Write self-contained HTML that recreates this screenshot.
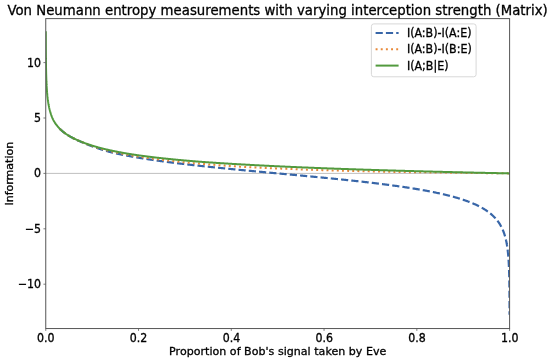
<!DOCTYPE html>
<html><head><meta charset="utf-8"><title>Von Neumann entropy measurements</title>
<style>
html,body{margin:0;padding:0;background:#fff;}
svg{display:block;}
text{font-family:"DejaVu Sans","Liberation Sans",sans-serif;fill:#000;stroke:#000;stroke-width:0.3px;}
svg{will-change:transform;}
.tk{font-size:11px;}
.lb{font-size:11.05px;}
.tt{font-size:13.27px;}
</style></head><body>
<svg width="550" height="362" viewBox="0 0 550 362">
<rect width="550" height="362" fill="#fff"/>
<clipPath id="ax"><rect x="45.75" y="18.6" width="463.85" height="309.95"/></clipPath>
<line x1="45.75" x2="509.6" y1="173.4" y2="173.4" stroke="#b8b8b8" stroke-width="0.9"/>
<g clip-path="url(#ax)" fill="none" stroke-width="2.0" stroke-linejoin="round">
<path d="M59.98,128.94 L60.48,129.43 L60.97,129.90 L61.47,130.35 L61.96,130.79 L62.46,131.21 L62.95,131.63 L63.45,132.03 L63.94,132.42 L64.44,132.80 L64.93,133.17 L65.43,133.52 L65.92,133.87 L66.42,134.21 L66.91,134.54 L67.41,134.87 L67.91,135.18 L68.40,135.49 L68.90,135.80 L69.39,136.09 L69.89,136.38 L70.38,136.67 L70.88,136.94 L71.37,137.22 L71.87,137.49 L72.36,137.75 L72.86,138.01 L73.35,138.27 L73.85,138.52 L74.34,138.77 L74.84,139.01 L75.34,139.25 L75.83,139.49 L76.33,139.73 L76.82,139.96 L77.32,140.19 L77.81,140.42 L78.31,140.64 L78.80,140.86 L79.30,141.08 L79.79,141.30 L80.29,141.52 L80.78,141.73 L81.28,141.94 L81.77,142.15 L82.27,142.36 L82.77,142.56 L83.26,142.78 L83.76,142.99 L84.25,143.20 L84.75,143.41 L85.24,143.62 L85.74,143.82 L86.23,144.02 L86.73,144.22 L87.22,144.42 L87.72,144.62 L88.21,144.82 L88.71,145.01 L89.20,145.20 L89.70,145.39 L90.19,145.58 L90.69,145.77 L91.19,145.96 L91.68,146.14 L92.18,146.32 L92.67,146.51 L93.17,146.69 L93.66,146.86 L94.16,147.04 L94.65,147.22 L95.15,147.39 L95.64,147.57 L96.14,147.74 L96.63,147.91 L97.13,148.08 L97.62,148.25 L98.12,148.41 L98.62,148.58 L99.11,148.74 L99.61,148.90 L100.10,149.06 L100.60,149.22 L101.09,149.38 L101.59,149.54 L102.08,149.69 L102.58,149.85 L103.07,150.00 L103.57,150.15 L104.06,150.30 L104.56,150.45 L105.05,150.60 L105.55,150.74 L106.05,150.89 L106.54,151.03 L107.04,151.17 L107.53,151.31 L108.03,151.45 L108.52,151.58 L109.02,151.72 L109.51,151.85 L110.01,151.98 L110.50,152.11 L111.00,152.24 L111.49,152.36 L111.99,152.49 L112.48,152.61 L112.98,152.73 L113.48,152.85 L113.97,152.96 L114.47,153.08 L114.96,153.19 L115.46,153.30 L115.95,153.41 L116.45,153.52 L116.94,153.63 L117.44,153.73 L117.93,153.84 L118.43,153.94 L118.92,154.05 L119.42,154.15 L119.91,154.26 L120.41,154.36 L120.91,154.46 L121.40,154.56 L121.90,154.66 L122.39,154.76 L122.89,154.86 L123.38,154.96 L123.88,155.06 L124.37,155.16 L124.87,155.26 L125.36,155.35 L125.86,155.45 L126.35,155.54 L126.85,155.64 L127.34,155.73 L127.84,155.83 L128.33,155.92 L128.83,156.01 L129.33,156.10 L129.82,156.19 L130.32,156.29 L130.81,156.38 L131.31,156.47 L131.80,156.56 L132.30,156.64 L132.79,156.73 L133.29,156.82 L133.78,156.91 L134.28,156.99 L134.77,157.08 L135.27,157.17 L135.76,157.25 L136.26,157.34 L136.76,157.42 L137.25,157.51 L137.75,157.59 L138.24,157.67 L138.74,157.76 L139.23,157.84 L139.73,157.92 L140.22,158.00 L140.72,158.09 L141.21,158.17 L141.71,158.25 L142.20,158.33 L142.70,158.41 L143.19,158.49 L143.69,158.57 L144.19,158.64 L144.68,158.72 L145.18,158.80 L145.67,158.88 L146.17,158.96 L146.66,159.03 L147.16,159.11 L147.65,159.18 L148.15,159.26 L148.64,159.34 L149.14,159.41 L149.63,159.49 L150.13,159.56 L150.62,159.63 L151.12,159.71 L151.62,159.78 L152.11,159.86 L152.61,159.93 L153.10,160.00 L153.60,160.07 L154.09,160.15 L154.59,160.22 L155.08,160.29 L155.58,160.36 L156.07,160.43 L156.57,160.50 L157.06,160.57 L157.56,160.64 L158.05,160.71 L158.55,160.78 L159.04,160.85 L159.54,160.92 L160.04,160.99 L160.53,161.06 L161.03,161.12 L161.52,161.19 L162.02,161.26 L162.51,161.33 L163.01,161.39 L163.50,161.46 L164.00,161.53 L164.49,161.59 L164.99,161.66 L165.48,161.72 L165.98,161.79 L166.47,161.86 L166.97,161.92 L167.47,161.99 L167.96,162.05 L168.46,162.12 L168.95,162.18 L169.45,162.24 L169.94,162.31 L170.44,162.37 L170.93,162.43 L171.43,162.50 L171.92,162.56 L172.42,162.62 L172.91,162.69 L173.41,162.75 L173.90,162.81 L174.40,162.87 L174.90,162.93 L175.39,163.00 L175.89,163.06 L176.38,163.12 L176.88,163.18 L177.37,163.24 L177.87,163.30 L178.36,163.36 L178.86,163.42 L179.35,163.48 L179.85,163.54 L180.34,163.60 L180.84,163.66 L181.33,163.72 L181.83,163.78 L182.33,163.84 L182.82,163.90 L183.32,163.96 L183.81,164.02 L184.31,164.07 L184.80,164.13 L185.30,164.19 L185.79,164.25 L186.29,164.31 L186.78,164.36 L187.28,164.42 L187.77,164.48 L188.27,164.54 L188.76,164.59 L189.26,164.65 L189.76,164.71 L190.25,164.76 L190.75,164.82 L191.24,164.87 L191.74,164.93 L192.23,164.99 L192.73,165.04 L193.22,165.10 L193.72,165.15 L194.21,165.21 L194.71,165.26 L195.20,165.32 L195.70,165.37 L196.19,165.43 L196.69,165.48 L197.18,165.54 L197.68,165.59 L198.18,165.65 L198.67,165.70 L199.17,165.76 L199.66,165.81 L200.16,165.86 L200.65,165.92 L201.15,165.97 L201.64,166.03 L202.14,166.08 L202.63,166.13 L203.13,166.18 L203.62,166.24 L204.12,166.29 L204.61,166.34 L205.11,166.40 L205.61,166.45 L206.10,166.50 L206.60,166.55 L207.09,166.61 L207.59,166.66 L208.08,166.71 L208.58,166.76 L209.07,166.81 L209.57,166.87 L210.06,166.92 L210.56,166.97 L211.05,167.02 L211.55,167.07 L212.04,167.12 L212.54,167.18 L213.04,167.23 L213.53,167.28 L214.03,167.33 L214.52,167.38 L215.02,167.43 L215.51,167.48 L216.01,167.53 L216.50,167.58 L217.00,167.63 L217.49,167.68 L217.99,167.73 L218.48,167.78 L218.98,167.83 L219.47,167.88 L219.97,167.93 L220.47,167.98 L220.96,168.03 L221.46,168.08 L221.95,168.13 L222.45,168.18 L222.94,168.23 L223.44,168.28 L223.93,168.33 L224.43,168.38 L224.92,168.43 L225.42,168.48 L225.91,168.53 L226.41,168.57 L226.90,168.62 L227.40,168.67 L227.89,168.72 L228.39,168.77 L228.89,168.82 L229.38,168.87 L229.88,168.92 L230.37,168.96 L230.87,169.01 L231.36,169.06 L231.86,169.11 L232.35,169.16 L232.85,169.20 L233.34,169.25 L233.84,169.30 L234.33,169.35 L234.83,169.40 L235.32,169.44 L235.82,169.49 L236.32,169.54 L236.81,169.59 L237.31,169.64 L237.80,169.68 L238.30,169.73 L238.79,169.78 L239.29,169.82 L239.78,169.87 L240.28,169.92 L240.77,169.97 L241.27,170.01 L241.76,170.06 L242.26,170.11 L242.75,170.16 L243.25,170.20 L243.75,170.25 L244.24,170.30 L244.74,170.34 L245.23,170.39 L245.73,170.44 L246.22,170.48 L246.72,170.53 L247.21,170.58 L247.71,170.62 L248.20,170.67 L248.70,170.72 L249.19,170.76 L249.69,170.81 L250.18,170.86 L250.68,170.90 L251.18,170.95 L251.67,171.00 L252.17,171.04 L252.66,171.09 L253.16,171.13 L253.65,171.18 L254.15,171.23 L254.64,171.27 L255.14,171.32 L255.63,171.37 L256.13,171.41 L256.62,171.46 L257.12,171.50 L257.61,171.55 L258.11,171.60 L258.61,171.64 L259.10,171.69 L259.60,171.73 L260.09,171.78 L260.59,171.83 L261.08,171.87 L261.58,171.92 L262.07,171.96 L262.57,172.01 L263.06,172.05 L263.56,172.10 L264.05,172.15 L264.55,172.19 L265.04,172.24 L265.54,172.28 L266.03,172.33 L266.53,172.37 L267.03,172.42 L267.52,172.47 L268.02,172.51 L268.51,172.56 L269.01,172.60 L269.50,172.65 L270.00,172.69 L270.49,172.74 L270.99,172.79 L271.48,172.83 L271.98,172.88 L272.47,172.92 L272.97,172.97 L273.46,173.01 L273.96,173.06 L274.46,173.10 L274.95,173.15 L275.45,173.20 L275.94,173.24 L276.44,173.29 L276.93,173.33 L277.43,173.38 L277.92,173.42 L278.42,173.47 L278.91,173.51 L279.41,173.56 L279.90,173.60 L280.40,173.65 L280.89,173.70 L281.39,173.74 L281.89,173.79 L282.38,173.83 L282.88,173.88 L283.37,173.92 L283.87,173.97 L284.36,174.01 L284.86,174.06 L285.35,174.11 L285.85,174.15 L286.34,174.20 L286.84,174.24 L287.33,174.29 L287.83,174.33 L288.32,174.38 L288.82,174.43 L289.32,174.47 L289.81,174.52 L290.31,174.56 L290.80,174.61 L291.30,174.65 L291.79,174.70 L292.29,174.75 L292.78,174.79 L293.28,174.84 L293.77,174.88 L294.27,174.93 L294.76,174.97 L295.26,175.02 L295.75,175.07 L296.25,175.11 L296.74,175.16 L297.24,175.20 L297.74,175.25 L298.23,175.30 L298.73,175.34 L299.22,175.39 L299.72,175.43 L300.21,175.48 L300.71,175.53 L301.20,175.57 L301.70,175.62 L302.19,175.67 L302.69,175.71 L303.18,175.76 L303.68,175.80 L304.17,175.85 L304.67,175.90 L305.17,175.94 L305.66,175.99 L306.16,176.04 L306.65,176.08 L307.15,176.13 L307.64,176.18 L308.14,176.22 L308.63,176.27 L309.13,176.32 L309.62,176.36 L310.12,176.41 L310.61,176.46 L311.11,176.50 L311.60,176.55 L312.10,176.60 L312.60,176.64 L313.09,176.69 L313.59,176.74 L314.08,176.79 L314.58,176.83 L315.07,176.88 L315.57,176.93 L316.06,176.98 L316.56,177.02 L317.05,177.07 L317.55,177.12 L318.04,177.16 L318.54,177.21 L319.03,177.26 L319.53,177.31 L320.03,177.36 L320.52,177.40 L321.02,177.45 L321.51,177.50 L322.01,177.55 L322.50,177.60 L323.00,177.64 L323.49,177.69 L323.99,177.74 L324.48,177.79 L324.98,177.84 L325.47,177.88 L325.97,177.93 L326.46,177.98 L326.96,178.03 L327.46,178.08 L327.95,178.13 L328.45,178.18 L328.94,178.23 L329.44,178.27 L329.93,178.32 L330.43,178.37 L330.92,178.42 L331.42,178.47 L331.91,178.52 L332.41,178.57 L332.90,178.62 L333.40,178.67 L333.89,178.72 L334.39,178.77 L334.88,178.82 L335.38,178.87 L335.88,178.92 L336.37,178.97 L336.87,179.02 L337.36,179.07 L337.86,179.12 L338.35,179.17 L338.85,179.22 L339.34,179.27 L339.84,179.32 L340.33,179.37 L340.83,179.42 L341.32,179.47 L341.82,179.52 L342.31,179.57 L342.81,179.62 L343.31,179.68 L343.80,179.73 L344.30,179.78 L344.79,179.83 L345.29,179.88 L345.78,179.93 L346.28,179.99 L346.77,180.04 L347.27,180.09 L347.76,180.14 L348.26,180.19 L348.75,180.25 L349.25,180.30 L349.74,180.35 L350.24,180.40 L350.74,180.46 L351.23,180.51 L351.73,180.56 L352.22,180.62 L352.72,180.67 L353.21,180.72 L353.71,180.77 L354.20,180.83 L354.70,180.88 L355.19,180.94 L355.69,180.99 L356.18,181.04 L356.68,181.10 L357.17,181.15 L357.67,181.21 L358.17,181.26 L358.66,181.32 L359.16,181.37 L359.65,181.43 L360.15,181.48 L360.64,181.54 L361.14,181.59 L361.63,181.65 L362.13,181.70 L362.62,181.76 L363.12,181.81 L363.61,181.87 L364.11,181.93 L364.60,181.98 L365.10,182.04 L365.59,182.09 L366.09,182.15 L366.59,182.21 L367.08,182.26 L367.58,182.32 L368.07,182.38 L368.57,182.44 L369.06,182.49 L369.56,182.55 L370.05,182.61 L370.55,182.67 L371.04,182.73 L371.54,182.78 L372.03,182.84 L372.53,182.90 L373.02,182.96 L373.52,183.02 L374.02,183.08 L374.51,183.14 L375.01,183.20 L375.50,183.26 L376.00,183.32 L376.49,183.38 L376.99,183.44 L377.48,183.50 L377.98,183.56 L378.47,183.62 L378.97,183.68 L379.46,183.74 L379.96,183.80 L380.45,183.87 L380.95,183.93 L381.45,183.99 L381.94,184.05 L382.44,184.11 L382.93,184.18 L383.43,184.24 L383.92,184.30 L384.42,184.37 L384.91,184.43 L385.41,184.49 L385.90,184.56 L386.40,184.62 L386.89,184.68 L387.39,184.75 L387.88,184.81 L388.38,184.88 L388.88,184.94 L389.37,185.01 L389.87,185.08 L390.36,185.14 L390.86,185.21 L391.35,185.27 L391.85,185.34 L392.34,185.41 L392.84,185.47 L393.33,185.54 L393.83,185.61 L394.32,185.68 L394.82,185.74 L395.31,185.81 L395.81,185.88 L396.31,185.95 L396.80,186.02 L397.30,186.09 L397.79,186.16 L398.29,186.23 L398.78,186.30 L399.28,186.37 L399.77,186.44 L400.27,186.51 L400.76,186.58 L401.26,186.65 L401.75,186.73 L402.25,186.80 L402.74,186.87 L403.24,186.94 L403.73,187.02 L404.23,187.09 L404.73,187.17 L405.22,187.24 L405.72,187.31 L406.21,187.39 L406.71,187.46 L407.20,187.54 L407.70,187.62 L408.19,187.69 L408.69,187.77 L409.18,187.84 L409.68,187.92 L410.17,188.00 L410.67,188.08 L411.16,188.16 L411.66,188.23 L412.16,188.31 L412.65,188.39 L413.15,188.47 L413.64,188.55 L414.14,188.63 L414.63,188.71 L415.13,188.80 L415.62,188.88 L416.12,188.96 L416.61,189.04 L417.11,189.13 L417.60,189.21 L418.10,189.29 L418.59,189.38 L419.09,189.46 L419.59,189.55 L420.08,189.63 L420.58,189.72 L421.07,189.81 L421.57,189.89 L422.06,189.98 L422.56,190.07 L423.05,190.16 L423.55,190.24 L424.04,190.33 L424.54,190.42 L425.03,190.51 L425.53,190.61 L426.02,190.70 L426.52,190.79 L427.02,190.88 L427.51,190.97 L428.01,191.07 L428.50,191.16 L429.00,191.26 L429.49,191.35 L429.99,191.45 L430.48,191.54 L430.98,191.64 L431.47,191.74 L431.97,191.84 L432.46,191.94 L432.96,192.04 L433.45,192.14 L433.95,192.24 L434.44,192.34 L434.94,192.44 L435.44,192.54 L435.93,192.65 L436.43,192.75 L436.92,192.86 L437.42,192.96 L437.91,193.07 L438.41,193.17 L438.90,193.28 L439.40,193.39 L439.89,193.50 L440.39,193.61 L440.88,193.72 L441.38,193.83 L441.87,193.94 L442.37,194.06 L442.87,194.17 L443.36,194.29 L443.86,194.40 L444.35,194.52 L444.85,194.64 L445.34,194.75 L445.84,194.87 L446.33,194.99 L446.83,195.12 L447.32,195.24 L447.82,195.36 L448.31,195.48 L448.81,195.61 L449.30,195.74 L449.80,195.86 L450.30,195.99 L450.79,196.12 L451.29,196.25 L451.78,196.38 L452.28,196.52 L452.77,196.65 L453.27,196.78 L453.76,196.92 L454.26,197.06 L454.75,197.20 L455.25,197.34 L455.74,197.48 L456.24,197.62 L456.73,197.77 L457.23,197.91 L457.73,198.06 L458.22,198.21 L458.72,198.36 L459.21,198.51 L459.71,198.66 L460.20,198.81 L460.70,198.97 L461.19,199.13 L461.69,199.29 L462.18,199.45 L462.68,199.61 L463.17,199.77 L463.67,199.94 L464.16,200.11 L464.66,200.28 L465.16,200.45 L465.65,200.62 L466.15,200.80 L466.64,200.97 L467.14,201.15 L467.63,201.34 L468.13,201.52 L468.62,201.71 L469.12,201.89 L469.61,202.08 L470.11,202.28 L470.60,202.47 L471.10,202.67 L471.59,202.87 L472.09,203.08 L472.58,203.28 L473.08,203.49 L473.58,203.70 L474.07,203.92 L474.57,204.14 L475.06,204.36 L475.56,204.58 L476.05,204.81 L476.55,205.04 L477.04,205.28 L477.54,205.52 L478.03,205.76 L478.53,206.00 L479.02,206.26 L479.52,206.51 L480.01,206.77 L480.51,207.03 L481.01,207.30 L481.50,207.57 L482.00,207.85 L482.49,208.13 L482.99,208.42 L483.48,208.71 L483.98,209.01 L484.47,209.32 L484.97,209.63 L485.46,209.95 L485.96,210.27 L486.45,210.60 L486.95,210.94 L487.44,211.29 L487.94,211.64 L488.44,212.01 L488.93,212.38 L489.43,212.76 L489.92,213.15 L490.42,213.55 L490.91,213.96 L491.41,214.38 L491.90,214.81 L492.40,215.26 L492.89,215.72 L493.39,216.19 L493.88,216.68 L494.38,217.19 L494.87,217.71 L495.37,218.25 L495.87,218.81 L496.36,219.39 L496.86,219.99 L497.35,220.61 L497.85,221.27 L498.34,221.95 L498.84,222.66 L499.33,223.40 L499.83,224.18 L500.32,225.01 L500.50,225.31 L500.67,225.61 L500.84,225.92 L501.01,226.22 L501.17,226.52 L501.33,226.83 L501.49,227.13 L501.64,227.44 L501.79,227.74 L501.94,228.04 L502.08,228.35 L502.23,228.65 L502.37,228.95 L502.50,229.26 L502.64,229.56 L502.77,229.86 L502.90,230.17 L503.03,230.47 L503.15,230.78 L503.27,231.08 L503.39,231.38 L503.51,231.69 L503.63,231.99 L503.74,232.30 L503.85,232.60 L503.96,232.91 L504.07,233.21 L504.17,233.51 L504.28,233.82 L504.38,234.12 L504.48,234.43 L504.57,234.73 L504.67,235.04 L504.76,235.34 L504.85,235.64 L504.94,235.95 L505.03,236.25 L505.12,236.56 L505.20,236.86 L505.29,237.17 L505.37,237.47 L505.45,237.78 L505.53,238.08 L505.60,238.39 L505.68,238.69 L505.75,239.00 L505.83,239.30 L505.90,239.61 L505.97,239.91 L506.04,240.22 L506.11,240.52 L506.17,240.82 L506.24,241.13 L506.30,241.43 L506.36,241.74 L506.42,242.04 L506.48,242.35 L506.54,242.65 L506.60,242.96 L506.66,243.26 L506.71,243.57 L506.77,243.88 L506.82,244.18 L506.88,244.49 L506.93,244.79 L506.98,245.10 L507.03,245.40 L507.08,245.71 L507.12,246.01 L507.17,246.32 L507.22,246.62 L507.26,246.93 L507.31,247.23 L507.35,247.54 L507.39,247.84 L507.43,248.15 L507.48,248.45 L507.52,248.76 L507.56,249.06 L507.59,249.37 L507.63,249.67 L507.67,249.98 L507.71,250.29 L507.74,250.59 L507.78,250.90 L507.81,251.20 L507.85,251.51 L507.88,251.81 L507.91,252.12 L507.94,252.42 L507.98,252.73 L508.01,253.03 L508.04,253.34 L508.07,253.65 L508.09,253.95 L508.12,254.26 L508.15,254.56 L508.18,254.87 L508.21,255.17 L508.23,255.48 L508.26,255.78 L508.28,256.09 L508.31,256.40 L508.33,256.70 L508.36,257.01 L508.38,257.31 L508.40,257.62 L508.43,257.92 L508.45,258.23 L508.47,258.53 L508.49,258.84 L508.51,259.15 L508.53,259.45 L508.55,259.76 L508.57,260.06 L508.59,260.37 L508.61,260.67 L508.63,260.98 L508.65,261.29 L508.67,261.59 L508.69,261.90 L508.70,262.20 L508.72,262.51 L508.74,262.81 L508.75,263.12 L508.77,263.43 L508.78,263.73 L508.80,264.04 L508.81,264.34 L508.83,264.65 L508.84,264.95 L508.86,265.26 L508.87,265.57 L508.89,265.87 L508.90,266.18 L508.91,266.48 L508.93,266.79 L508.94,267.10 L508.95,267.40 L508.96,267.71 L508.98,268.01 L508.99,268.32 L509.00,268.62 L509.01,268.93 L509.02,269.24 L509.03,269.54 L509.04,269.85 L509.05,270.15 L509.06,270.46 L509.07,270.76 L509.08,271.07 L509.09,271.38 L509.10,271.68 L509.11,271.99 L509.12,272.29 L509.13,272.60 L509.14,272.91 L509.15,273.21 L509.16,273.52 L509.17,273.82 L509.17,274.13 L509.18,274.44 L509.19,274.74 L509.20,275.05 L509.21,275.35 L509.21,275.66 L509.22,275.96 L509.23,276.27 L509.23,276.58 L509.24,276.88 L509.25,277.19 L509.26,277.49 L509.26,277.80 L509.27,278.11 L509.27,278.41 L509.28,278.72 L509.29,279.02 L509.29,279.33 L509.30,279.64 L509.30,279.94 L509.31,280.25 L509.32,280.55 L509.32,280.86 L509.33,281.17 L509.33,281.47 L509.34,281.78 L509.34,282.08 L509.35,282.39 L509.35,282.69 L509.36,283.00 L509.36,283.31 L509.36,283.61 L509.37,283.92 L509.37,284.22 L509.38,284.53 L509.38,284.84 L509.39,285.14 L509.39,285.45 L509.39,285.75 L509.40,286.06 L509.40,286.37 L509.41,286.67 L509.41,286.98 L509.41,287.28 L509.42,287.59 L509.42,287.90 L509.42,288.20 L509.43,288.51 L509.43,288.81 L509.43,289.12 L509.44,289.43 L509.44,289.73 L509.44,290.04 L509.45,290.34 L509.45,290.65 L509.45,290.96 L509.45,291.26 L509.46,291.57 L509.46,291.87 L509.46,292.18 L509.47,292.49 L509.47,292.79 L509.47,293.10 L509.47,293.40 L509.48,293.71 L509.48,294.02 L509.48,294.32 L509.48,294.63 L509.48,294.93 L509.49,295.24 L509.49,295.54 L509.49,295.85 L509.49,296.16 L509.49,296.46 L509.50,296.77 L509.50,297.07 L509.50,297.38 L509.50,297.69 L509.50,297.99 L509.51,298.30 L509.51,298.60 L509.51,298.91 L509.51,299.22 L509.51,299.52 L509.51,299.83 L509.52,300.13 L509.52,300.44 L509.52,300.75 L509.52,301.05 L509.52,301.36 L509.52,301.66 L509.53,301.97 L509.53,302.28 L509.53,302.58 L509.53,302.89 L509.53,303.19 L509.53,303.50 L509.53,303.81 L509.53,304.11 L509.54,304.42 L509.54,304.72 L509.54,305.03 L509.54,305.34 L509.54,305.64 L509.54,305.95 L509.54,306.25 L509.54,306.56 L509.55,306.87 L509.55,307.17 L509.55,307.48 L509.55,307.78 L509.55,308.09 L509.55,308.40 L509.55,308.70 L509.55,309.01 L509.55,309.31 L509.55,309.62 L509.55,309.93 L509.56,310.23 L509.56,310.54 L509.56,310.84 L509.56,311.15 L509.56,311.46 L509.56,311.76 L509.56,312.07 L509.56,312.37 L509.56,312.68 L509.56,312.99 L509.56,313.29 L509.56,313.60 L509.56,313.90 L509.57,314.21 L509.57,314.52 L509.57,314.67 L509.57,314.67 L509.57,314.67 L509.57,314.67 L509.57,314.67 L509.57,314.67" stroke="#3866a8" stroke-width="2.2" stroke-dasharray="7.2 3.1"/>
<path d="M59.98,128.94 L60.48,129.43 L60.97,129.90 L61.47,130.35 L61.96,130.79 L62.46,131.21 L62.95,131.63 L63.45,132.03 L63.94,132.42 L64.44,132.80 L64.93,133.17 L65.43,133.52 L65.92,133.87 L66.42,134.21 L66.91,134.54 L67.41,134.87 L67.91,135.18 L68.40,135.49 L68.90,135.80 L69.39,136.09 L69.89,136.38 L70.38,136.66 L70.88,136.94 L71.37,137.21 L71.87,137.48 L72.36,137.74 L72.86,138.00 L73.35,138.25 L73.85,138.50 L74.34,138.74 L74.84,138.98 L75.34,139.21 L75.83,139.44 L76.33,139.67 L76.82,139.89 L77.32,140.11 L77.81,140.33 L78.31,140.54 L78.80,140.76 L79.30,140.98 L79.79,141.20 L80.29,141.41 L80.78,141.62 L81.28,141.83 L81.77,142.03 L82.27,142.23 L82.77,142.43 L83.26,142.64 L83.76,142.85 L84.25,143.05 L84.75,143.25 L85.24,143.45 L85.74,143.65 L86.23,143.84 L86.73,144.03 L87.22,144.22 L87.72,144.41 L88.21,144.60 L88.71,144.78 L89.20,144.96 L89.70,145.14 L90.19,145.32 L90.69,145.49 L91.19,145.67 L91.68,145.84 L92.18,146.01 L92.67,146.17 L93.17,146.34 L93.66,146.50 L94.16,146.67 L94.65,146.83 L95.15,146.99 L95.64,147.14 L96.14,147.30 L96.63,147.45 L97.13,147.61 L97.62,147.76 L98.12,147.91 L98.62,148.06 L99.11,148.21 L99.61,148.35 L100.10,148.50 L100.60,148.64 L101.09,148.78 L101.59,148.92 L102.08,149.06 L102.58,149.20 L103.07,149.34 L103.57,149.48 L104.06,149.61 L104.56,149.74 L105.05,149.88 L105.55,150.01 L106.05,150.14 L106.54,150.26 L107.04,150.39 L107.53,150.51 L108.03,150.63 L108.52,150.75 L109.02,150.87 L109.51,150.99 L110.01,151.11 L110.50,151.22 L111.00,151.34 L111.49,151.45 L111.99,151.57 L112.48,151.68 L112.98,151.79 L113.48,151.90 L113.97,152.01 L114.47,152.12 L114.96,152.23 L115.46,152.34 L115.95,152.45 L116.45,152.55 L116.94,152.66 L117.44,152.76 L117.93,152.87 L118.43,152.97 L118.92,153.07 L119.42,153.17 L119.91,153.27 L120.41,153.38 L120.91,153.48 L121.40,153.57 L121.90,153.67 L122.39,153.77 L122.89,153.87 L123.38,153.96 L123.88,154.06 L124.37,154.16 L124.87,154.25 L125.36,154.34 L125.86,154.44 L126.35,154.53 L126.85,154.62 L127.34,154.71 L127.84,154.81 L128.33,154.90 L128.83,154.99 L129.33,155.08 L129.82,155.16 L130.32,155.25 L130.81,155.34 L131.31,155.43 L131.80,155.51 L132.30,155.60 L132.79,155.69 L133.29,155.77 L133.78,155.86 L134.28,155.94 L134.77,156.03 L135.27,156.11 L135.76,156.19 L136.26,156.27 L136.76,156.36 L137.25,156.44 L137.75,156.52 L138.24,156.60 L138.74,156.68 L139.23,156.75 L139.73,156.83 L140.22,156.90 L140.72,156.98 L141.21,157.05 L141.71,157.12 L142.20,157.20 L142.70,157.27 L143.19,157.34 L143.69,157.41 L144.19,157.49 L144.68,157.56 L145.18,157.63 L145.67,157.70 L146.17,157.77 L146.66,157.84 L147.16,157.91 L147.65,157.98 L148.15,158.05 L148.64,158.11 L149.14,158.18 L149.63,158.25 L150.13,158.32 L150.62,158.38 L151.12,158.45 L151.62,158.52 L152.11,158.58 L152.61,158.65 L153.10,158.72 L153.60,158.78 L154.09,158.84 L154.59,158.91 L155.08,158.97 L155.58,159.04 L156.07,159.10 L156.57,159.16 L157.06,159.23 L157.56,159.29 L158.05,159.35 L158.55,159.41 L159.04,159.48 L159.54,159.54 L160.04,159.60 L160.53,159.66 L161.03,159.72 L161.52,159.78 L162.02,159.84 L162.51,159.90 L163.01,159.96 L163.50,160.02 L164.00,160.08 L164.49,160.14 L164.99,160.20 L165.48,160.26 L165.98,160.31 L166.47,160.37 L166.97,160.43 L167.47,160.49 L167.96,160.54 L168.46,160.60 L168.95,160.66 L169.45,160.71 L169.94,160.77 L170.44,160.83 L170.93,160.88 L171.43,160.94 L171.92,160.99 L172.42,161.05 L172.91,161.10 L173.41,161.16 L173.90,161.21 L174.40,161.26 L174.90,161.32 L175.39,161.37 L175.89,161.43 L176.38,161.48 L176.88,161.53 L177.37,161.58 L177.87,161.64 L178.36,161.69 L178.86,161.74 L179.35,161.79 L179.85,161.85 L180.34,161.90 L180.84,161.95 L181.33,162.00 L181.83,162.05 L182.33,162.10 L182.82,162.15 L183.32,162.20 L183.81,162.25 L184.31,162.30 L184.80,162.35 L185.30,162.40 L185.79,162.45 L186.29,162.50 L186.78,162.54 L187.28,162.59 L187.77,162.64 L188.27,162.68 L188.76,162.73 L189.26,162.78 L189.76,162.82 L190.25,162.87 L190.75,162.92 L191.24,162.96 L191.74,163.01 L192.23,163.05 L192.73,163.10 L193.22,163.14 L193.72,163.19 L194.21,163.23 L194.71,163.28 L195.20,163.32 L195.70,163.36 L196.19,163.41 L196.69,163.45 L197.18,163.50 L197.68,163.54 L198.18,163.58 L198.67,163.63 L199.17,163.67 L199.66,163.71 L200.16,163.75 L200.65,163.79 L201.15,163.83 L201.64,163.87 L202.14,163.91 L202.63,163.95 L203.13,163.99 L203.62,164.03 L204.12,164.07 L204.61,164.11 L205.11,164.15 L205.61,164.19 L206.10,164.23 L206.60,164.27 L207.09,164.30 L207.59,164.34 L208.08,164.38 L208.58,164.42 L209.07,164.46 L209.57,164.50 L210.06,164.54 L210.56,164.57 L211.05,164.61 L211.55,164.65 L212.04,164.69 L212.54,164.72 L213.04,164.76 L213.53,164.80 L214.03,164.84 L214.52,164.87 L215.02,164.91 L215.51,164.95 L216.01,164.98 L216.50,165.02 L217.00,165.06 L217.49,165.09 L217.99,165.13 L218.48,165.17 L218.98,165.20 L219.47,165.24 L219.97,165.28 L220.47,165.31 L220.96,165.35 L221.46,165.38 L221.95,165.42 L222.45,165.45 L222.94,165.49 L223.44,165.52 L223.93,165.56 L224.43,165.59 L224.92,165.63 L225.42,165.66 L225.91,165.70 L226.41,165.73 L226.90,165.77 L227.40,165.80 L227.89,165.84 L228.39,165.87 L228.89,165.91 L229.38,165.94 L229.88,165.97 L230.37,166.01 L230.87,166.04 L231.36,166.08 L231.86,166.11 L232.35,166.14 L232.85,166.18 L233.34,166.21 L233.84,166.24 L234.33,166.28 L234.83,166.31 L235.32,166.34 L235.82,166.38 L236.32,166.41 L236.81,166.44 L237.31,166.47 L237.80,166.51 L238.30,166.54 L238.79,166.57 L239.29,166.60 L239.78,166.64 L240.28,166.67 L240.77,166.70 L241.27,166.72 L241.76,166.75 L242.26,166.78 L242.75,166.80 L243.25,166.83 L243.75,166.86 L244.24,166.88 L244.74,166.91 L245.23,166.93 L245.73,166.96 L246.22,166.98 L246.72,167.01 L247.21,167.03 L247.71,167.06 L248.20,167.09 L248.70,167.11 L249.19,167.14 L249.69,167.16 L250.18,167.19 L250.68,167.21 L251.18,167.23 L251.67,167.26 L252.17,167.28 L252.66,167.31 L253.16,167.33 L253.65,167.36 L254.15,167.38 L254.64,167.41 L255.14,167.43 L255.63,167.46 L256.13,167.48 L256.62,167.50 L257.12,167.53 L257.61,167.55 L258.11,167.58 L258.61,167.60 L259.10,167.62 L259.60,167.65 L260.09,167.67 L260.59,167.70 L261.08,167.72 L261.58,167.74 L262.07,167.77 L262.57,167.79 L263.06,167.81 L263.56,167.84 L264.05,167.86 L264.55,167.88 L265.04,167.91 L265.54,167.93 L266.03,167.95 L266.53,167.98 L267.03,168.00 L267.52,168.02 L268.02,168.05 L268.51,168.07 L269.01,168.09 L269.50,168.11 L270.00,168.14 L270.49,168.16 L270.99,168.18 L271.48,168.20 L271.98,168.23 L272.47,168.25 L272.97,168.27 L273.46,168.29 L273.96,168.31 L274.46,168.34 L274.95,168.36 L275.45,168.38 L275.94,168.40 L276.44,168.42 L276.93,168.44 L277.43,168.47 L277.92,168.49 L278.42,168.51 L278.91,168.53 L279.41,168.55 L279.90,168.57 L280.40,168.59 L280.89,168.62 L281.39,168.64 L281.89,168.66 L282.38,168.68 L282.88,168.70 L283.37,168.72 L283.87,168.74 L284.36,168.76 L284.86,168.78 L285.35,168.80 L285.85,168.83 L286.34,168.85 L286.84,168.87 L287.33,168.89 L287.83,168.91 L288.32,168.93 L288.82,168.95 L289.32,168.97 L289.81,168.99 L290.31,169.01 L290.80,169.03 L291.30,169.05 L291.79,169.07 L292.29,169.09 L292.78,169.11 L293.28,169.13 L293.77,169.15 L294.27,169.17 L294.76,169.19 L295.26,169.21 L295.75,169.23 L296.25,169.25 L296.74,169.27 L297.24,169.29 L297.74,169.31 L298.23,169.32 L298.73,169.34 L299.22,169.36 L299.72,169.38 L300.21,169.40 L300.71,169.42 L301.20,169.44 L301.70,169.46 L302.19,169.47 L302.69,169.49 L303.18,169.51 L303.68,169.52 L304.17,169.54 L304.67,169.56 L305.17,169.58 L305.66,169.59 L306.16,169.61 L306.65,169.63 L307.15,169.64 L307.64,169.66 L308.14,169.68 L308.63,169.69 L309.13,169.71 L309.62,169.73 L310.12,169.74 L310.61,169.76 L311.11,169.78 L311.60,169.79 L312.10,169.81 L312.60,169.82 L313.09,169.84 L313.59,169.86 L314.08,169.87 L314.58,169.89 L315.07,169.91 L315.57,169.92 L316.06,169.94 L316.56,169.95 L317.05,169.97 L317.55,169.99 L318.04,170.00 L318.54,170.02 L319.03,170.03 L319.53,170.05 L320.03,170.06 L320.52,170.08 L321.02,170.10 L321.51,170.11 L322.01,170.13 L322.50,170.14 L323.00,170.16 L323.49,170.17 L323.99,170.19 L324.48,170.20 L324.98,170.22 L325.47,170.23 L325.97,170.25 L326.46,170.26 L326.96,170.28 L327.46,170.29 L327.95,170.31 L328.45,170.32 L328.94,170.34 L329.44,170.35 L329.93,170.37 L330.43,170.38 L330.92,170.40 L331.42,170.41 L331.91,170.43 L332.41,170.44 L332.90,170.45 L333.40,170.47 L333.89,170.48 L334.39,170.50 L334.88,170.51 L335.38,170.53 L335.88,170.54 L336.37,170.55 L336.87,170.57 L337.36,170.58 L337.86,170.60 L338.35,170.61 L338.85,170.63 L339.34,170.64 L339.84,170.65 L340.33,170.67 L340.83,170.68 L341.32,170.70 L341.82,170.71 L342.31,170.72 L342.81,170.74 L343.31,170.75 L343.80,170.76 L344.30,170.78 L344.79,170.79 L345.29,170.80 L345.78,170.82 L346.28,170.83 L346.77,170.85 L347.27,170.86 L347.76,170.87 L348.26,170.88 L348.75,170.90 L349.25,170.91 L349.74,170.92 L350.24,170.93 L350.74,170.94 L351.23,170.96 L351.73,170.97 L352.22,170.98 L352.72,170.99 L353.21,171.00 L353.71,171.02 L354.20,171.03 L354.70,171.04 L355.19,171.05 L355.69,171.06 L356.18,171.08 L356.68,171.09 L357.17,171.10 L357.67,171.11 L358.17,171.12 L358.66,171.13 L359.16,171.14 L359.65,171.16 L360.15,171.17 L360.64,171.18 L361.14,171.19 L361.63,171.20 L362.13,171.21 L362.62,171.22 L363.12,171.24 L363.61,171.25 L364.11,171.26 L364.60,171.27 L365.10,171.28 L365.59,171.29 L366.09,171.30 L366.59,171.31 L367.08,171.33 L367.58,171.34 L368.07,171.35 L368.57,171.36 L369.06,171.37 L369.56,171.38 L370.05,171.39 L370.55,171.40 L371.04,171.41 L371.54,171.42 L372.03,171.44 L372.53,171.45 L373.02,171.46 L373.52,171.47 L374.02,171.48 L374.51,171.49 L375.01,171.50 L375.50,171.51 L376.00,171.52 L376.49,171.53 L376.99,171.54 L377.48,171.55 L377.98,171.56 L378.47,171.57 L378.97,171.58 L379.46,171.59 L379.96,171.60 L380.45,171.62 L380.95,171.63 L381.45,171.64 L381.94,171.65 L382.44,171.66 L382.93,171.67 L383.43,171.68 L383.92,171.69 L384.42,171.70 L384.91,171.71 L385.41,171.72 L385.90,171.73 L386.40,171.74 L386.89,171.75 L387.39,171.76 L387.88,171.77 L388.38,171.78 L388.88,171.79 L389.37,171.80 L389.87,171.81 L390.36,171.82 L390.86,171.83 L391.35,171.84 L391.85,171.85 L392.34,171.86 L392.84,171.87 L393.33,171.88 L393.83,171.89 L394.32,171.89 L394.82,171.90 L395.31,171.91 L395.81,171.92 L396.31,171.93 L396.80,171.93 L397.30,171.94 L397.79,171.95 L398.29,171.96 L398.78,171.97 L399.28,171.97 L399.77,171.98 L400.27,171.99 L400.76,172.00 L401.26,172.00 L401.75,172.01 L402.25,172.02 L402.74,172.03 L403.24,172.04 L403.73,172.04 L404.23,172.05 L404.73,172.06 L405.22,172.07 L405.72,172.07 L406.21,172.08 L406.71,172.09 L407.20,172.10 L407.70,172.10 L408.19,172.11 L408.69,172.12 L409.18,172.13 L409.68,172.13 L410.17,172.14 L410.67,172.15 L411.16,172.16 L411.66,172.16 L412.16,172.17 L412.65,172.18 L413.15,172.18 L413.64,172.19 L414.14,172.20 L414.63,172.21 L415.13,172.21 L415.62,172.22 L416.12,172.23 L416.61,172.23 L417.11,172.24 L417.60,172.25 L418.10,172.26 L418.59,172.26 L419.09,172.27 L419.59,172.28 L420.08,172.28 L420.58,172.29 L421.07,172.30 L421.57,172.30 L422.06,172.31 L422.56,172.32 L423.05,172.32 L423.55,172.33 L424.04,172.34 L424.54,172.35 L425.03,172.35 L425.53,172.36 L426.02,172.37 L426.52,172.37 L427.02,172.38 L427.51,172.39 L428.01,172.39 L428.50,172.40 L429.00,172.40 L429.49,172.41 L429.99,172.42 L430.48,172.42 L430.98,172.43 L431.47,172.44 L431.97,172.44 L432.46,172.45 L432.96,172.46 L433.45,172.46 L433.95,172.47 L434.44,172.48 L434.94,172.48 L435.44,172.49 L435.93,172.49 L436.43,172.50 L436.92,172.51 L437.42,172.51 L437.91,172.52 L438.41,172.53 L438.90,172.53 L439.40,172.54 L439.89,172.54 L440.39,172.55 L440.88,172.56 L441.38,172.56 L441.87,172.57 L442.37,172.57 L442.87,172.58 L443.36,172.59 L443.86,172.59 L444.35,172.60 L444.85,172.60 L445.34,172.61 L445.84,172.62 L446.33,172.62 L446.83,172.63 L447.32,172.63 L447.82,172.64 L448.31,172.65 L448.81,172.65 L449.30,172.66 L449.80,172.66 L450.30,172.67 L450.79,172.67 L451.29,172.68 L451.78,172.69 L452.28,172.69 L452.77,172.70 L453.27,172.70 L453.76,172.71 L454.26,172.71 L454.75,172.72 L455.25,172.73 L455.74,172.74 L456.24,172.74 L456.73,172.75 L457.23,172.76 L457.73,172.76 L458.22,172.77 L458.72,172.78 L459.21,172.78 L459.71,172.79 L460.20,172.80 L460.70,172.80 L461.19,172.81 L461.69,172.82 L462.18,172.83 L462.68,172.83 L463.17,172.84 L463.67,172.85 L464.16,172.85 L464.66,172.86 L465.16,172.87 L465.65,172.87 L466.15,172.88 L466.64,172.89 L467.14,172.89 L467.63,172.90 L468.13,172.90 L468.62,172.91 L469.12,172.92 L469.61,172.92 L470.11,172.93 L470.60,172.94 L471.10,172.94 L471.59,172.95 L472.09,172.96 L472.58,172.96 L473.08,172.97 L473.58,172.98 L474.07,172.98 L474.57,172.99 L475.06,173.00 L475.56,173.00 L476.05,173.01 L476.55,173.01 L477.04,173.02 L477.54,173.03 L478.03,173.03 L478.53,173.04 L479.02,173.05 L479.52,173.05 L480.01,173.06 L480.51,173.06 L481.01,173.07 L481.50,173.08 L482.00,173.08 L482.49,173.09 L482.99,173.09 L483.48,173.10 L483.98,173.11 L484.47,173.11 L484.97,173.12 L485.46,173.12 L485.96,173.13 L486.45,173.14 L486.95,173.14 L487.44,173.15 L487.94,173.15 L488.44,173.16 L488.93,173.17 L489.43,173.17 L489.92,173.18 L490.42,173.18 L490.91,173.19 L491.41,173.20 L491.90,173.20 L492.40,173.21 L492.89,173.21 L493.39,173.22 L493.88,173.22 L494.38,173.23 L494.87,173.24 L495.37,173.24 L495.87,173.25 L496.36,173.25 L496.86,173.26 L497.35,173.26 L497.85,173.27 L498.34,173.28 L498.84,173.28 L499.33,173.29 L499.83,173.29 L500.32,173.30 L500.50,173.30 L500.67,173.30 L500.84,173.30 L501.01,173.31 L501.17,173.31 L501.33,173.31 L501.49,173.31 L501.64,173.31 L501.79,173.31 L501.94,173.32 L502.08,173.32 L502.23,173.32 L502.37,173.32 L502.50,173.32 L502.64,173.32 L502.77,173.33 L502.90,173.33 L503.03,173.33 L503.15,173.33 L503.27,173.33 L503.39,173.33 L503.51,173.33 L503.63,173.33 L503.74,173.34 L503.85,173.34 L503.96,173.34 L504.07,173.34 L504.17,173.34 L504.28,173.34 L504.38,173.34 L504.48,173.34 L504.57,173.35 L504.67,173.35 L504.76,173.35 L504.85,173.35 L504.94,173.35 L505.03,173.35 L505.12,173.35 L505.20,173.35 L505.29,173.35 L505.37,173.35 L505.45,173.36 L505.53,173.36 L505.60,173.36 L505.68,173.36 L505.75,173.36 L505.83,173.36 L505.90,173.36 L505.97,173.36 L506.04,173.36 L506.11,173.36 L506.17,173.36 L506.24,173.36 L506.30,173.36 L506.36,173.36 L506.42,173.37 L506.48,173.37 L506.54,173.37 L506.60,173.37 L506.66,173.37 L506.71,173.37 L506.77,173.37 L506.82,173.37 L506.88,173.37 L506.93,173.37 L506.98,173.37 L507.03,173.37 L507.08,173.37 L507.12,173.37 L507.17,173.37 L507.22,173.37 L507.26,173.37 L507.31,173.38 L507.35,173.38 L507.39,173.38 L507.43,173.38 L507.48,173.38 L507.52,173.38 L507.56,173.38 L507.59,173.38 L507.63,173.38 L507.67,173.38 L507.71,173.38 L507.74,173.38 L507.78,173.38 L507.81,173.38 L507.85,173.38 L507.88,173.38 L507.91,173.38 L507.94,173.38 L507.98,173.38 L508.01,173.38 L508.04,173.38 L508.07,173.38 L508.09,173.38 L508.12,173.38 L508.15,173.38 L508.18,173.38 L508.21,173.38 L508.23,173.39 L508.26,173.39 L508.28,173.39 L508.31,173.39 L508.33,173.39 L508.36,173.39 L508.38,173.39 L508.40,173.39 L508.43,173.39 L508.45,173.39 L508.47,173.39 L508.49,173.39 L508.51,173.39 L508.53,173.39 L508.55,173.39 L508.57,173.39 L508.59,173.39 L508.61,173.39 L508.63,173.39 L508.65,173.39 L508.67,173.39 L508.69,173.39 L508.70,173.39 L508.72,173.39 L508.74,173.39 L508.75,173.39 L508.77,173.39 L508.78,173.39 L508.80,173.39 L508.81,173.39 L508.83,173.39 L508.84,173.39 L508.86,173.39 L508.87,173.39 L508.89,173.39 L508.90,173.39 L508.91,173.39 L508.93,173.39 L508.94,173.39 L508.95,173.39 L508.96,173.39 L508.98,173.39 L508.99,173.39 L509.00,173.39 L509.01,173.39 L509.02,173.39 L509.03,173.39 L509.04,173.39 L509.05,173.39 L509.06,173.39 L509.07,173.39 L509.08,173.39 L509.09,173.39 L509.10,173.39 L509.11,173.39 L509.12,173.39 L509.13,173.39 L509.14,173.40 L509.15,173.40 L509.16,173.40 L509.17,173.40 L509.17,173.40 L509.18,173.40 L509.19,173.40 L509.20,173.40 L509.21,173.40 L509.21,173.40 L509.22,173.40 L509.23,173.40 L509.23,173.40 L509.24,173.40 L509.25,173.40 L509.26,173.40 L509.26,173.40 L509.27,173.40 L509.27,173.40 L509.28,173.40 L509.29,173.40 L509.29,173.40 L509.30,173.40 L509.30,173.40 L509.31,173.40 L509.32,173.40 L509.32,173.40 L509.33,173.40 L509.33,173.40 L509.34,173.40 L509.34,173.40 L509.35,173.40 L509.35,173.40 L509.36,173.40 L509.36,173.40 L509.36,173.40 L509.37,173.40 L509.37,173.40 L509.38,173.40 L509.38,173.40 L509.39,173.40 L509.39,173.40 L509.39,173.40 L509.40,173.40 L509.40,173.40 L509.41,173.40 L509.41,173.40 L509.41,173.40 L509.42,173.40 L509.42,173.40 L509.42,173.40 L509.43,173.40 L509.43,173.40 L509.43,173.40 L509.44,173.40 L509.44,173.40 L509.44,173.40 L509.45,173.40 L509.45,173.40 L509.45,173.40 L509.45,173.40 L509.46,173.40 L509.46,173.40 L509.46,173.40 L509.47,173.40 L509.47,173.40 L509.47,173.40 L509.47,173.40 L509.48,173.40 L509.48,173.40 L509.48,173.40 L509.48,173.40 L509.48,173.40 L509.49,173.40 L509.49,173.40 L509.49,173.40 L509.49,173.40 L509.49,173.40 L509.50,173.40 L509.50,173.40 L509.50,173.40 L509.50,173.40 L509.50,173.40 L509.51,173.40 L509.51,173.40 L509.51,173.40 L509.51,173.40 L509.51,173.40 L509.51,173.40 L509.52,173.40 L509.52,173.40 L509.52,173.40 L509.52,173.40 L509.52,173.40 L509.52,173.40 L509.53,173.40 L509.53,173.40 L509.53,173.40 L509.53,173.40 L509.53,173.40 L509.53,173.40 L509.53,173.40 L509.53,173.40 L509.54,173.40 L509.54,173.40 L509.54,173.40 L509.54,173.40 L509.54,173.40 L509.54,173.40 L509.54,173.40 L509.54,173.40 L509.55,173.40 L509.55,173.40 L509.55,173.40 L509.55,173.40 L509.55,173.40 L509.55,173.40 L509.55,173.40 L509.55,173.40 L509.55,173.40 L509.55,173.40 L509.55,173.40 L509.56,173.40 L509.56,173.40 L509.56,173.40 L509.56,173.40 L509.56,173.40 L509.56,173.40 L509.56,173.40 L509.56,173.40 L509.56,173.40 L509.56,173.40 L509.56,173.40 L509.56,173.40 L509.56,173.40 L509.57,173.40 L509.57,173.40 L509.57,173.40 L509.57,173.40 L509.57,173.40 L509.57,173.40 L509.57,173.40 L509.57,173.40" stroke="#e8893a" stroke-dasharray="1.95 3.2"/>
<path d="M45.78,32.13 L45.78,32.44 L45.78,32.74 L45.78,33.05 L45.78,33.35 L45.78,33.66 L45.78,33.97 L45.78,34.27 L45.79,34.58 L45.79,34.88 L45.79,35.19 L45.79,35.50 L45.79,35.80 L45.79,36.11 L45.79,36.41 L45.79,36.72 L45.79,37.03 L45.79,37.33 L45.79,37.64 L45.79,37.94 L45.79,38.25 L45.80,38.56 L45.80,38.86 L45.80,39.17 L45.80,39.47 L45.80,39.78 L45.80,40.09 L45.80,40.39 L45.80,40.70 L45.80,41.00 L45.80,41.31 L45.80,41.62 L45.81,41.92 L45.81,42.23 L45.81,42.53 L45.81,42.84 L45.81,43.15 L45.81,43.45 L45.81,43.76 L45.81,44.06 L45.82,44.37 L45.82,44.68 L45.82,44.98 L45.82,45.29 L45.82,45.59 L45.82,45.90 L45.82,46.21 L45.82,46.51 L45.83,46.82 L45.83,47.12 L45.83,47.43 L45.83,47.74 L45.83,48.04 L45.83,48.35 L45.84,48.65 L45.84,48.96 L45.84,49.27 L45.84,49.57 L45.84,49.88 L45.84,50.18 L45.85,50.49 L45.85,50.80 L45.85,51.10 L45.85,51.41 L45.85,51.71 L45.86,52.02 L45.86,52.32 L45.86,52.63 L45.86,52.94 L45.86,53.24 L45.87,53.55 L45.87,53.85 L45.87,54.16 L45.87,54.47 L45.87,54.77 L45.88,55.08 L45.88,55.38 L45.88,55.69 L45.88,56.00 L45.89,56.30 L45.89,56.61 L45.89,56.91 L45.90,57.22 L45.90,57.53 L45.90,57.83 L45.90,58.14 L45.91,58.44 L45.91,58.75 L45.91,59.05 L45.92,59.36 L45.92,59.67 L45.92,59.97 L45.93,60.28 L45.93,60.58 L45.93,60.89 L45.94,61.20 L45.94,61.50 L45.94,61.81 L45.95,62.11 L45.95,62.42 L45.96,62.72 L45.96,63.03 L45.96,63.34 L45.97,63.64 L45.97,63.95 L45.98,64.25 L45.98,64.56 L45.99,64.87 L45.99,65.17 L45.99,65.48 L46.00,65.78 L46.00,66.09 L46.01,66.39 L46.01,66.70 L46.02,67.01 L46.02,67.31 L46.03,67.62 L46.03,67.92 L46.04,68.23 L46.05,68.54 L46.05,68.84 L46.06,69.15 L46.06,69.45 L46.07,69.76 L46.08,70.06 L46.08,70.37 L46.09,70.68 L46.09,70.98 L46.10,71.29 L46.11,71.59 L46.12,71.90 L46.12,72.20 L46.13,72.51 L46.14,72.82 L46.14,73.12 L46.15,73.43 L46.16,73.73 L46.17,74.04 L46.18,74.34 L46.18,74.65 L46.19,74.96 L46.20,75.26 L46.21,75.57 L46.22,75.87 L46.23,76.18 L46.24,76.48 L46.25,76.79 L46.26,77.09 L46.27,77.40 L46.28,77.71 L46.29,78.01 L46.30,78.32 L46.31,78.62 L46.32,78.93 L46.33,79.23 L46.34,79.54 L46.35,79.85 L46.36,80.15 L46.37,80.46 L46.39,80.76 L46.40,81.07 L46.41,81.37 L46.42,81.68 L46.44,81.98 L46.45,82.29 L46.46,82.59 L46.48,82.90 L46.49,83.21 L46.51,83.51 L46.52,83.82 L46.54,84.12 L46.55,84.43 L46.57,84.73 L46.58,85.04 L46.60,85.34 L46.61,85.65 L46.63,85.95 L46.65,86.26 L46.66,86.56 L46.68,86.87 L46.70,87.17 L46.72,87.48 L46.74,87.79 L46.76,88.09 L46.78,88.40 L46.80,88.70 L46.82,89.01 L46.84,89.31 L46.86,89.62 L46.88,89.92 L46.90,90.23 L46.92,90.53 L46.95,90.84 L46.97,91.14 L46.99,91.45 L47.02,91.75 L47.04,92.06 L47.07,92.36 L47.09,92.67 L47.12,92.97 L47.14,93.28 L47.17,93.58 L47.20,93.89 L47.23,94.19 L47.26,94.50 L47.28,94.80 L47.31,95.11 L47.34,95.41 L47.37,95.71 L47.41,96.02 L47.44,96.32 L47.47,96.63 L47.50,96.93 L47.54,97.24 L47.57,97.54 L47.61,97.85 L47.64,98.15 L47.68,98.46 L47.72,98.76 L47.76,99.06 L47.79,99.37 L47.83,99.67 L47.87,99.98 L47.92,100.28 L47.96,100.59 L48.00,100.89 L48.04,101.19 L48.09,101.50 L48.13,101.80 L48.18,102.11 L48.23,102.41 L48.27,102.72 L48.32,103.02 L48.37,103.32 L48.42,103.63 L48.47,103.93 L48.53,104.23 L48.58,104.54 L48.64,104.84 L48.69,105.15 L48.75,105.45 L48.81,105.75 L48.87,106.06 L48.93,106.36 L48.99,106.66 L49.05,106.97 L49.11,107.27 L49.18,107.57 L49.24,107.88 L49.31,108.18 L49.38,108.48 L49.45,108.79 L49.52,109.09 L49.60,109.39 L49.67,109.70 L49.75,110.00 L49.82,110.30 L49.90,110.60 L49.98,110.91 L50.06,111.21 L50.15,111.51 L50.23,111.81 L50.32,112.12 L50.41,112.42 L50.50,112.72 L50.59,113.02 L50.68,113.33 L50.78,113.63 L50.87,113.93 L50.97,114.23 L51.07,114.53 L51.18,114.83 L51.28,115.14 L51.39,115.44 L51.50,115.74 L51.61,116.04 L51.72,116.34 L51.84,116.64 L51.96,116.94 L52.08,117.25 L52.20,117.55 L52.32,117.85 L52.45,118.15 L52.58,118.45 L52.71,118.75 L52.85,119.02 L52.98,119.30 L53.12,119.57 L53.27,119.84 L53.41,120.12 L53.56,120.39 L53.71,120.66 L53.86,120.94 L54.02,121.21 L54.18,121.48 L54.34,121.76 L54.51,122.03 L54.68,122.30 L54.85,122.58 L55.03,122.85 L55.52,123.59 L56.02,124.30 L56.51,124.97 L57.01,125.61 L57.50,126.22 L58.00,126.81 L58.49,127.37 L58.99,127.92 L59.48,128.44 L59.98,128.94 L60.48,129.43 L60.97,129.90 L61.47,130.35 L61.96,130.79 L62.46,131.21 L62.95,131.63 L63.45,132.03 L63.94,132.42 L64.44,132.80 L64.93,133.17 L65.43,133.52 L65.92,133.87 L66.42,134.21 L66.91,134.54 L67.41,134.87 L67.91,135.18 L68.40,135.49 L68.90,135.80 L69.39,136.09 L69.89,136.38 L70.38,136.66 L70.88,136.94 L71.37,137.21 L71.87,137.48 L72.36,137.74 L72.86,138.00 L73.35,138.25 L73.85,138.50 L74.34,138.74 L74.84,138.98 L75.34,139.21 L75.83,139.44 L76.33,139.67 L76.82,139.89 L77.32,140.11 L77.81,140.33 L78.31,140.54 L78.80,140.75 L79.30,140.95 L79.79,141.15 L80.29,141.35 L80.78,141.55 L81.28,141.74 L81.77,141.93 L82.27,142.12 L82.77,142.31 L83.26,142.50 L83.76,142.69 L84.25,142.88 L84.75,143.07 L85.24,143.26 L85.74,143.44 L86.23,143.62 L86.73,143.80 L87.22,143.97 L87.72,144.15 L88.21,144.32 L88.71,144.49 L89.20,144.65 L89.70,144.82 L90.19,144.98 L90.69,145.14 L91.19,145.30 L91.68,145.46 L92.18,145.62 L92.67,145.77 L93.17,145.92 L93.66,146.07 L94.16,146.22 L94.65,146.37 L95.15,146.51 L95.64,146.66 L96.14,146.80 L96.63,146.94 L97.13,147.08 L97.62,147.22 L98.12,147.35 L98.62,147.49 L99.11,147.62 L99.61,147.76 L100.10,147.89 L100.60,148.02 L101.09,148.15 L101.59,148.27 L102.08,148.40 L102.58,148.52 L103.07,148.65 L103.57,148.77 L104.06,148.89 L104.56,149.01 L105.05,149.13 L105.55,149.25 L106.05,149.36 L106.54,149.48 L107.04,149.59 L107.53,149.71 L108.03,149.82 L108.52,149.93 L109.02,150.04 L109.51,150.15 L110.01,150.26 L110.50,150.37 L111.00,150.48 L111.49,150.58 L111.99,150.69 L112.48,150.79 L112.98,150.90 L113.48,151.00 L113.97,151.10 L114.47,151.20 L114.96,151.30 L115.46,151.40 L115.95,151.50 L116.45,151.60 L116.94,151.70 L117.44,151.79 L117.93,151.89 L118.43,151.98 L118.92,152.08 L119.42,152.17 L119.91,152.26 L120.41,152.35 L120.91,152.45 L121.40,152.54 L121.90,152.63 L122.39,152.72 L122.89,152.80 L123.38,152.89 L123.88,152.98 L124.37,153.07 L124.87,153.15 L125.36,153.24 L125.86,153.32 L126.35,153.41 L126.85,153.49 L127.34,153.58 L127.84,153.66 L128.33,153.74 L128.83,153.82 L129.33,153.90 L129.82,153.98 L130.32,154.06 L130.81,154.14 L131.31,154.22 L131.80,154.30 L132.30,154.38 L132.79,154.46 L133.29,154.53 L133.78,154.61 L134.28,154.68 L134.77,154.76 L135.27,154.83 L135.76,154.91 L136.26,154.98 L136.76,155.06 L137.25,155.13 L137.75,155.20 L138.24,155.27 L138.74,155.35 L139.23,155.41 L139.73,155.48 L140.22,155.55 L140.72,155.62 L141.21,155.69 L141.71,155.76 L142.20,155.82 L142.70,155.89 L143.19,155.96 L143.69,156.02 L144.19,156.09 L144.68,156.15 L145.18,156.22 L145.67,156.28 L146.17,156.35 L146.66,156.41 L147.16,156.48 L147.65,156.54 L148.15,156.60 L148.64,156.66 L149.14,156.73 L149.63,156.79 L150.13,156.85 L150.62,156.91 L151.12,156.97 L151.62,157.03 L152.11,157.09 L152.61,157.15 L153.10,157.21 L153.60,157.27 L154.09,157.33 L154.59,157.39 L155.08,157.45 L155.58,157.50 L156.07,157.56 L156.57,157.62 L157.06,157.68 L157.56,157.73 L158.05,157.79 L158.55,157.85 L159.04,157.90 L159.54,157.96 L160.04,158.01 L160.53,158.07 L161.03,158.12 L161.52,158.18 L162.02,158.23 L162.51,158.29 L163.01,158.34 L163.50,158.39 L164.00,158.45 L164.49,158.50 L164.99,158.55 L165.48,158.60 L165.98,158.66 L166.47,158.71 L166.97,158.76 L167.47,158.81 L167.96,158.86 L168.46,158.91 L168.95,158.96 L169.45,159.01 L169.94,159.06 L170.44,159.11 L170.93,159.16 L171.43,159.21 L171.92,159.26 L172.42,159.31 L172.91,159.36 L173.41,159.41 L173.90,159.46 L174.40,159.51 L174.90,159.55 L175.39,159.60 L175.89,159.65 L176.38,159.70 L176.88,159.74 L177.37,159.79 L177.87,159.84 L178.36,159.88 L178.86,159.93 L179.35,159.98 L179.85,160.02 L180.34,160.07 L180.84,160.11 L181.33,160.16 L181.83,160.20 L182.33,160.25 L182.82,160.29 L183.32,160.34 L183.81,160.38 L184.31,160.43 L184.80,160.47 L185.30,160.52 L185.79,160.56 L186.29,160.60 L186.78,160.65 L187.28,160.69 L187.77,160.73 L188.27,160.77 L188.76,160.82 L189.26,160.86 L189.76,160.90 L190.25,160.94 L190.75,160.99 L191.24,161.03 L191.74,161.07 L192.23,161.11 L192.73,161.15 L193.22,161.19 L193.72,161.23 L194.21,161.27 L194.71,161.31 L195.20,161.36 L195.70,161.40 L196.19,161.44 L196.69,161.48 L197.18,161.52 L197.68,161.55 L198.18,161.59 L198.67,161.63 L199.17,161.67 L199.66,161.71 L200.16,161.74 L200.65,161.78 L201.15,161.82 L201.64,161.85 L202.14,161.89 L202.63,161.93 L203.13,161.96 L203.62,162.00 L204.12,162.03 L204.61,162.07 L205.11,162.10 L205.61,162.14 L206.10,162.17 L206.60,162.21 L207.09,162.24 L207.59,162.28 L208.08,162.31 L208.58,162.35 L209.07,162.38 L209.57,162.42 L210.06,162.45 L210.56,162.49 L211.05,162.52 L211.55,162.55 L212.04,162.59 L212.54,162.62 L213.04,162.65 L213.53,162.69 L214.03,162.72 L214.52,162.75 L215.02,162.79 L215.51,162.82 L216.01,162.85 L216.50,162.89 L217.00,162.92 L217.49,162.95 L217.99,162.98 L218.48,163.02 L218.98,163.05 L219.47,163.08 L219.97,163.11 L220.47,163.14 L220.96,163.18 L221.46,163.21 L221.95,163.24 L222.45,163.27 L222.94,163.30 L223.44,163.33 L223.93,163.37 L224.43,163.40 L224.92,163.43 L225.42,163.46 L225.91,163.49 L226.41,163.52 L226.90,163.55 L227.40,163.58 L227.89,163.61 L228.39,163.64 L228.89,163.67 L229.38,163.70 L229.88,163.73 L230.37,163.76 L230.87,163.79 L231.36,163.82 L231.86,163.85 L232.35,163.88 L232.85,163.91 L233.34,163.94 L233.84,163.97 L234.33,164.00 L234.83,164.03 L235.32,164.06 L235.82,164.09 L236.32,164.12 L236.81,164.14 L237.31,164.17 L237.80,164.20 L238.30,164.23 L238.79,164.26 L239.29,164.29 L239.78,164.32 L240.28,164.34 L240.77,164.37 L241.27,164.40 L241.76,164.43 L242.26,164.46 L242.75,164.48 L243.25,164.51 L243.75,164.54 L244.24,164.57 L244.74,164.60 L245.23,164.62 L245.73,164.65 L246.22,164.68 L246.72,164.70 L247.21,164.73 L247.71,164.76 L248.20,164.79 L248.70,164.81 L249.19,164.84 L249.69,164.87 L250.18,164.89 L250.68,164.92 L251.18,164.95 L251.67,164.97 L252.17,165.00 L252.66,165.03 L253.16,165.05 L253.65,165.08 L254.15,165.11 L254.64,165.13 L255.14,165.16 L255.63,165.18 L256.13,165.21 L256.62,165.24 L257.12,165.26 L257.61,165.29 L258.11,165.31 L258.61,165.34 L259.10,165.37 L259.60,165.39 L260.09,165.42 L260.59,165.44 L261.08,165.47 L261.58,165.49 L262.07,165.52 L262.57,165.54 L263.06,165.57 L263.56,165.60 L264.05,165.62 L264.55,165.65 L265.04,165.67 L265.54,165.70 L266.03,165.72 L266.53,165.75 L267.03,165.77 L267.52,165.79 L268.02,165.82 L268.51,165.84 L269.01,165.87 L269.50,165.89 L270.00,165.92 L270.49,165.94 L270.99,165.97 L271.48,165.99 L271.98,166.01 L272.47,166.04 L272.97,166.06 L273.46,166.09 L273.96,166.11 L274.46,166.13 L274.95,166.16 L275.45,166.18 L275.94,166.20 L276.44,166.23 L276.93,166.25 L277.43,166.27 L277.92,166.30 L278.42,166.32 L278.91,166.34 L279.41,166.37 L279.90,166.39 L280.40,166.41 L280.89,166.44 L281.39,166.46 L281.89,166.48 L282.38,166.51 L282.88,166.53 L283.37,166.55 L283.87,166.57 L284.36,166.60 L284.86,166.62 L285.35,166.64 L285.85,166.66 L286.34,166.69 L286.84,166.71 L287.33,166.73 L287.83,166.75 L288.32,166.78 L288.82,166.80 L289.32,166.82 L289.81,166.84 L290.31,166.86 L290.80,166.89 L291.30,166.91 L291.79,166.93 L292.29,166.95 L292.78,166.97 L293.28,167.00 L293.77,167.02 L294.27,167.04 L294.76,167.06 L295.26,167.08 L295.75,167.10 L296.25,167.12 L296.74,167.15 L297.24,167.17 L297.74,167.19 L298.23,167.21 L298.73,167.23 L299.22,167.25 L299.72,167.27 L300.21,167.29 L300.71,167.31 L301.20,167.34 L301.70,167.36 L302.19,167.38 L302.69,167.40 L303.18,167.42 L303.68,167.44 L304.17,167.46 L304.67,167.48 L305.17,167.50 L305.66,167.52 L306.16,167.54 L306.65,167.56 L307.15,167.58 L307.64,167.60 L308.14,167.62 L308.63,167.64 L309.13,167.66 L309.62,167.68 L310.12,167.70 L310.61,167.72 L311.11,167.74 L311.60,167.76 L312.10,167.78 L312.60,167.80 L313.09,167.82 L313.59,167.84 L314.08,167.86 L314.58,167.88 L315.07,167.90 L315.57,167.92 L316.06,167.94 L316.56,167.96 L317.05,167.98 L317.55,168.00 L318.04,168.02 L318.54,168.04 L319.03,168.06 L319.53,168.08 L320.03,168.10 L320.52,168.12 L321.02,168.13 L321.51,168.15 L322.01,168.17 L322.50,168.19 L323.00,168.21 L323.49,168.23 L323.99,168.25 L324.48,168.27 L324.98,168.29 L325.47,168.30 L325.97,168.32 L326.46,168.34 L326.96,168.36 L327.46,168.38 L327.95,168.40 L328.45,168.42 L328.94,168.43 L329.44,168.45 L329.93,168.47 L330.43,168.49 L330.92,168.51 L331.42,168.52 L331.91,168.54 L332.41,168.56 L332.90,168.58 L333.40,168.60 L333.89,168.61 L334.39,168.63 L334.88,168.65 L335.38,168.67 L335.88,168.69 L336.37,168.70 L336.87,168.72 L337.36,168.74 L337.86,168.76 L338.35,168.77 L338.85,168.79 L339.34,168.81 L339.84,168.83 L340.33,168.84 L340.83,168.86 L341.32,168.88 L341.82,168.90 L342.31,168.91 L342.81,168.93 L343.31,168.95 L343.80,168.97 L344.30,168.98 L344.79,169.00 L345.29,169.02 L345.78,169.04 L346.28,169.05 L346.77,169.07 L347.27,169.09 L347.76,169.10 L348.26,169.12 L348.75,169.14 L349.25,169.15 L349.74,169.17 L350.24,169.19 L350.74,169.20 L351.23,169.22 L351.73,169.24 L352.22,169.25 L352.72,169.27 L353.21,169.29 L353.71,169.30 L354.20,169.32 L354.70,169.34 L355.19,169.35 L355.69,169.37 L356.18,169.39 L356.68,169.40 L357.17,169.42 L357.67,169.44 L358.17,169.45 L358.66,169.47 L359.16,169.49 L359.65,169.50 L360.15,169.52 L360.64,169.53 L361.14,169.55 L361.63,169.57 L362.13,169.58 L362.62,169.60 L363.12,169.62 L363.61,169.63 L364.11,169.65 L364.60,169.66 L365.10,169.68 L365.59,169.69 L366.09,169.71 L366.59,169.73 L367.08,169.74 L367.58,169.76 L368.07,169.77 L368.57,169.79 L369.06,169.81 L369.56,169.82 L370.05,169.84 L370.55,169.85 L371.04,169.87 L371.54,169.88 L372.03,169.90 L372.53,169.91 L373.02,169.93 L373.52,169.95 L374.02,169.96 L374.51,169.98 L375.01,169.99 L375.50,170.01 L376.00,170.02 L376.49,170.04 L376.99,170.05 L377.48,170.07 L377.98,170.08 L378.47,170.10 L378.97,170.11 L379.46,170.13 L379.96,170.14 L380.45,170.16 L380.95,170.17 L381.45,170.19 L381.94,170.20 L382.44,170.22 L382.93,170.23 L383.43,170.25 L383.92,170.26 L384.42,170.28 L384.91,170.29 L385.41,170.31 L385.90,170.32 L386.40,170.34 L386.89,170.35 L387.39,170.37 L387.88,170.38 L388.38,170.40 L388.88,170.41 L389.37,170.43 L389.87,170.44 L390.36,170.46 L390.86,170.47 L391.35,170.49 L391.85,170.50 L392.34,170.51 L392.84,170.53 L393.33,170.54 L393.83,170.56 L394.32,170.57 L394.82,170.59 L395.31,170.60 L395.81,170.62 L396.31,170.63 L396.80,170.64 L397.30,170.66 L397.79,170.67 L398.29,170.69 L398.78,170.70 L399.28,170.72 L399.77,170.73 L400.27,170.74 L400.76,170.76 L401.26,170.77 L401.75,170.79 L402.25,170.80 L402.74,170.82 L403.24,170.83 L403.73,170.84 L404.23,170.86 L404.73,170.87 L405.22,170.89 L405.72,170.90 L406.21,170.91 L406.71,170.93 L407.20,170.94 L407.70,170.95 L408.19,170.97 L408.69,170.98 L409.18,171.00 L409.68,171.01 L410.17,171.02 L410.67,171.04 L411.16,171.05 L411.66,171.06 L412.16,171.08 L412.65,171.09 L413.15,171.11 L413.64,171.12 L414.14,171.13 L414.63,171.15 L415.13,171.16 L415.62,171.17 L416.12,171.19 L416.61,171.20 L417.11,171.21 L417.60,171.23 L418.10,171.24 L418.59,171.25 L419.09,171.27 L419.59,171.28 L420.08,171.29 L420.58,171.31 L421.07,171.32 L421.57,171.33 L422.06,171.35 L422.56,171.36 L423.05,171.37 L423.55,171.39 L424.04,171.40 L424.54,171.41 L425.03,171.43 L425.53,171.44 L426.02,171.45 L426.52,171.47 L427.02,171.48 L427.51,171.49 L428.01,171.50 L428.50,171.52 L429.00,171.53 L429.49,171.54 L429.99,171.56 L430.48,171.57 L430.98,171.58 L431.47,171.59 L431.97,171.61 L432.46,171.62 L432.96,171.63 L433.45,171.65 L433.95,171.66 L434.44,171.67 L434.94,171.68 L435.44,171.70 L435.93,171.71 L436.43,171.72 L436.92,171.73 L437.42,171.75 L437.91,171.76 L438.41,171.77 L438.90,171.78 L439.40,171.80 L439.89,171.81 L440.39,171.82 L440.88,171.83 L441.38,171.85 L441.87,171.86 L442.37,171.87 L442.87,171.88 L443.36,171.90 L443.86,171.91 L444.35,171.92 L444.85,171.93 L445.34,171.95 L445.84,171.96 L446.33,171.97 L446.83,171.98 L447.32,171.99 L447.82,172.01 L448.31,172.02 L448.81,172.03 L449.30,172.04 L449.80,172.06 L450.30,172.07 L450.79,172.08 L451.29,172.09 L451.78,172.10 L452.28,172.12 L452.77,172.13 L453.27,172.14 L453.76,172.15 L454.26,172.16 L454.75,172.18 L455.25,172.19 L455.74,172.20 L456.24,172.21 L456.73,172.22 L457.23,172.24 L457.73,172.25 L458.22,172.26 L458.72,172.27 L459.21,172.28 L459.71,172.29 L460.20,172.31 L460.70,172.32 L461.19,172.33 L461.69,172.34 L462.18,172.35 L462.68,172.36 L463.17,172.38 L463.67,172.39 L464.16,172.40 L464.66,172.41 L465.16,172.42 L465.65,172.43 L466.15,172.45 L466.64,172.46 L467.14,172.47 L467.63,172.48 L468.13,172.49 L468.62,172.50 L469.12,172.52 L469.61,172.53 L470.11,172.54 L470.60,172.55 L471.10,172.56 L471.59,172.57 L472.09,172.58 L472.58,172.59 L473.08,172.61 L473.58,172.62 L474.07,172.63 L474.57,172.64 L475.06,172.65 L475.56,172.66 L476.05,172.67 L476.55,172.69 L477.04,172.70 L477.54,172.71 L478.03,172.72 L478.53,172.73 L479.02,172.74 L479.52,172.75 L480.01,172.76 L480.51,172.77 L481.01,172.79 L481.50,172.80 L482.00,172.81 L482.49,172.82 L482.99,172.83 L483.48,172.84 L483.98,172.85 L484.47,172.86 L484.97,172.87 L485.46,172.88 L485.96,172.90 L486.45,172.91 L486.95,172.92 L487.44,172.93 L487.94,172.94 L488.44,172.95 L488.93,172.96 L489.43,172.97 L489.92,172.98 L490.42,172.99 L490.91,173.00 L491.41,173.01 L491.90,173.03 L492.40,173.04 L492.89,173.05 L493.39,173.06 L493.88,173.07 L494.38,173.08 L494.87,173.09 L495.37,173.10 L495.87,173.11 L496.36,173.12 L496.86,173.13 L497.35,173.14 L497.85,173.15 L498.34,173.16 L498.84,173.17 L499.33,173.18 L499.83,173.20 L500.32,173.21 L500.50,173.21 L500.67,173.21 L500.84,173.22 L501.01,173.22 L501.17,173.22 L501.33,173.23 L501.49,173.23 L501.64,173.23 L501.79,173.24 L501.94,173.24 L502.08,173.24 L502.23,173.25 L502.37,173.25 L502.50,173.25 L502.64,173.25 L502.77,173.26 L502.90,173.26 L503.03,173.26 L503.15,173.27 L503.27,173.27 L503.39,173.27 L503.51,173.27 L503.63,173.28 L503.74,173.28 L503.85,173.28 L503.96,173.28 L504.07,173.28 L504.17,173.29 L504.28,173.29 L504.38,173.29 L504.48,173.29 L504.57,173.30 L504.67,173.30 L504.76,173.30 L504.85,173.30 L504.94,173.30 L505.03,173.30 L505.12,173.31 L505.20,173.31 L505.29,173.31 L505.37,173.31 L505.45,173.31 L505.53,173.32 L505.60,173.32 L505.68,173.32 L505.75,173.32 L505.83,173.32 L505.90,173.32 L505.97,173.32 L506.04,173.33 L506.11,173.33 L506.17,173.33 L506.24,173.33 L506.30,173.33 L506.36,173.33 L506.42,173.33 L506.48,173.34 L506.54,173.34 L506.60,173.34 L506.66,173.34 L506.71,173.34 L506.77,173.34 L506.82,173.34 L506.88,173.34 L506.93,173.34 L506.98,173.35 L507.03,173.35 L507.08,173.35 L507.12,173.35 L507.17,173.35 L507.22,173.35 L507.26,173.35 L507.31,173.35 L507.35,173.35 L507.39,173.35 L507.43,173.36 L507.48,173.36 L507.52,173.36 L507.56,173.36 L507.59,173.36 L507.63,173.36 L507.67,173.36 L507.71,173.36 L507.74,173.36 L507.78,173.36 L507.81,173.36 L507.85,173.36 L507.88,173.36 L507.91,173.37 L507.94,173.37 L507.98,173.37 L508.01,173.37 L508.04,173.37 L508.07,173.37 L508.09,173.37 L508.12,173.37 L508.15,173.37 L508.18,173.37 L508.21,173.37 L508.23,173.37 L508.26,173.37 L508.28,173.37 L508.31,173.37 L508.33,173.37 L508.36,173.37 L508.38,173.37 L508.40,173.38 L508.43,173.38 L508.45,173.38 L508.47,173.38 L508.49,173.38 L508.51,173.38 L508.53,173.38 L508.55,173.38 L508.57,173.38 L508.59,173.38 L508.61,173.38 L508.63,173.38 L508.65,173.38 L508.67,173.38 L508.69,173.38 L508.70,173.38 L508.72,173.38 L508.74,173.38 L508.75,173.38 L508.77,173.38 L508.78,173.38 L508.80,173.38 L508.81,173.38 L508.83,173.38 L508.84,173.38 L508.86,173.38 L508.87,173.38 L508.89,173.39 L508.90,173.39 L508.91,173.39 L508.93,173.39 L508.94,173.39 L508.95,173.39 L508.96,173.39 L508.98,173.39 L508.99,173.39 L509.00,173.39 L509.01,173.39 L509.02,173.39 L509.03,173.39 L509.04,173.39 L509.05,173.39 L509.06,173.39 L509.07,173.39 L509.08,173.39 L509.09,173.39 L509.10,173.39 L509.11,173.39 L509.12,173.39 L509.13,173.39 L509.14,173.39 L509.15,173.39 L509.16,173.39 L509.17,173.39 L509.17,173.39 L509.18,173.39 L509.19,173.39 L509.20,173.39 L509.21,173.39 L509.21,173.39 L509.22,173.39 L509.23,173.39 L509.23,173.39 L509.24,173.39 L509.25,173.39 L509.26,173.39 L509.26,173.39 L509.27,173.39 L509.27,173.39 L509.28,173.39 L509.29,173.39 L509.29,173.39 L509.30,173.39 L509.30,173.39 L509.31,173.39 L509.32,173.39 L509.32,173.39 L509.33,173.39 L509.33,173.39 L509.34,173.39 L509.34,173.39 L509.35,173.39 L509.35,173.39 L509.36,173.39 L509.36,173.40 L509.36,173.40 L509.37,173.40 L509.37,173.40 L509.38,173.40 L509.38,173.40 L509.39,173.40 L509.39,173.40 L509.39,173.40 L509.40,173.40 L509.40,173.40 L509.41,173.40 L509.41,173.40 L509.41,173.40 L509.42,173.40 L509.42,173.40 L509.42,173.40 L509.43,173.40 L509.43,173.40 L509.43,173.40 L509.44,173.40 L509.44,173.40 L509.44,173.40 L509.45,173.40 L509.45,173.40 L509.45,173.40 L509.45,173.40 L509.46,173.40 L509.46,173.40 L509.46,173.40 L509.47,173.40 L509.47,173.40 L509.47,173.40 L509.47,173.40 L509.48,173.40 L509.48,173.40 L509.48,173.40 L509.48,173.40 L509.48,173.40 L509.49,173.40 L509.49,173.40 L509.49,173.40 L509.49,173.40 L509.49,173.40 L509.50,173.40 L509.50,173.40 L509.50,173.40 L509.50,173.40 L509.50,173.40 L509.51,173.40 L509.51,173.40 L509.51,173.40 L509.51,173.40 L509.51,173.40 L509.51,173.40 L509.52,173.40 L509.52,173.40 L509.52,173.40 L509.52,173.40 L509.52,173.40 L509.52,173.40 L509.53,173.40 L509.53,173.40 L509.53,173.40 L509.53,173.40 L509.53,173.40 L509.53,173.40 L509.53,173.40 L509.53,173.40 L509.54,173.40 L509.54,173.40 L509.54,173.40 L509.54,173.40 L509.54,173.40 L509.54,173.40 L509.54,173.40 L509.54,173.40 L509.55,173.40 L509.55,173.40 L509.55,173.40 L509.55,173.40 L509.55,173.40 L509.55,173.40 L509.55,173.40 L509.55,173.40 L509.55,173.40 L509.55,173.40 L509.55,173.40 L509.56,173.40 L509.56,173.40 L509.56,173.40 L509.56,173.40 L509.56,173.40 L509.56,173.40 L509.56,173.40 L509.56,173.40 L509.56,173.40 L509.56,173.40 L509.56,173.40 L509.56,173.40 L509.56,173.40 L509.57,173.40 L509.57,173.40 L509.57,173.40 L509.57,173.40 L509.57,173.40 L509.57,173.40 L509.57,173.40 L509.57,173.40" stroke="#529a3e" stroke-linecap="square"/>
</g>
<rect x="45.75" y="18.6" width="463.85" height="309.95" fill="none" stroke="#555" stroke-width="1"/>
<line x1="45.75" x2="45.75" y1="328.55" y2="330.85" stroke="#5a5a5a" stroke-width="0.8"/><text class="tk" transform="translate(45.85,341.9) scale(1,1.04)" text-anchor="middle">0.0</text>
<line x1="138.52" x2="138.52" y1="328.55" y2="330.85" stroke="#5a5a5a" stroke-width="0.8"/><text class="tk" transform="translate(138.62,341.9) scale(1,1.04)" text-anchor="middle">0.2</text>
<line x1="231.29" x2="231.29" y1="328.55" y2="330.85" stroke="#5a5a5a" stroke-width="0.8"/><text class="tk" transform="translate(231.39,341.9) scale(1,1.04)" text-anchor="middle">0.4</text>
<line x1="324.06" x2="324.06" y1="328.55" y2="330.85" stroke="#5a5a5a" stroke-width="0.8"/><text class="tk" transform="translate(324.16,341.9) scale(1,1.04)" text-anchor="middle">0.6</text>
<line x1="416.83" x2="416.83" y1="328.55" y2="330.85" stroke="#5a5a5a" stroke-width="0.8"/><text class="tk" transform="translate(416.93,341.9) scale(1,1.04)" text-anchor="middle">0.8</text>
<line x1="509.60" x2="509.60" y1="328.55" y2="330.85" stroke="#5a5a5a" stroke-width="0.8"/><text class="tk" transform="translate(509.70,341.9) scale(1,1.04)" text-anchor="middle">1.0</text>
<line x1="43.45" x2="45.75" y1="62.60" y2="62.60" stroke="#5a5a5a" stroke-width="0.8"/><text class="tk" transform="translate(41.1,66.65) scale(1,1.04)" text-anchor="end">10</text>
<line x1="43.45" x2="45.75" y1="118.00" y2="118.00" stroke="#5a5a5a" stroke-width="0.8"/><text class="tk" transform="translate(41.1,122.05) scale(1,1.04)" text-anchor="end">5</text>
<line x1="43.45" x2="45.75" y1="173.40" y2="173.40" stroke="#5a5a5a" stroke-width="0.8"/><text class="tk" transform="translate(41.1,177.45) scale(1,1.04)" text-anchor="end">0</text>
<line x1="43.45" x2="45.75" y1="228.80" y2="228.80" stroke="#5a5a5a" stroke-width="0.8"/><text class="tk" transform="translate(41.1,232.85) scale(1,1.04)" text-anchor="end">−5</text>
<line x1="43.45" x2="45.75" y1="284.20" y2="284.20" stroke="#5a5a5a" stroke-width="0.8"/><text class="tk" transform="translate(41.1,288.25) scale(1,1.04)" text-anchor="end">−10</text>
<text class="lb" x="169.1" y="354.8" textLength="217.2" lengthAdjust="spacing">Proportion of Bob's signal taken by Eve</text>
<text class="lb" transform="translate(13.3,173.7) rotate(-90) scale(1,1.03)" x="-31.9" textLength="63.8" lengthAdjust="spacing">Information</text>
<text class="tt" x="7.4" y="15.0" textLength="540.4" lengthAdjust="spacing">Von Neumann entropy measurements with varying interception strength (Matrix)</text>
<rect x="371.4" y="23.9" width="104.70000000000005" height="52.9" rx="2.4" ry="2.4" fill="#fff" fill-opacity="0.8" stroke="#d4d4d4" stroke-width="0.9"/>
<line x1="375.6" x2="398.6" y1="33.1" y2="33.1" stroke="#3866a8" stroke-width="2.0" stroke-dasharray="7.2 3.1"/>
<line x1="375.6" x2="398.6" y1="49.35" y2="49.35" stroke="#e8893a" stroke-width="2.0" stroke-dasharray="1.95 3.2"/>
<line x1="375.6" x2="398.6" y1="65.6" y2="65.6" stroke="#529a3e" stroke-width="2.0"/>
<text class="tk" transform="translate(406.9,37.20) scale(1.008,1.07)">I(A:B)-I(A:E)</text>
<text class="tk" transform="translate(406.9,53.45) scale(1.008,1.07)">I(A:B)-I(B:E)</text>
<text class="tk" transform="translate(406.9,69.70) scale(1.008,1.07)">I(A;B|E)</text>
</svg></body></html>
